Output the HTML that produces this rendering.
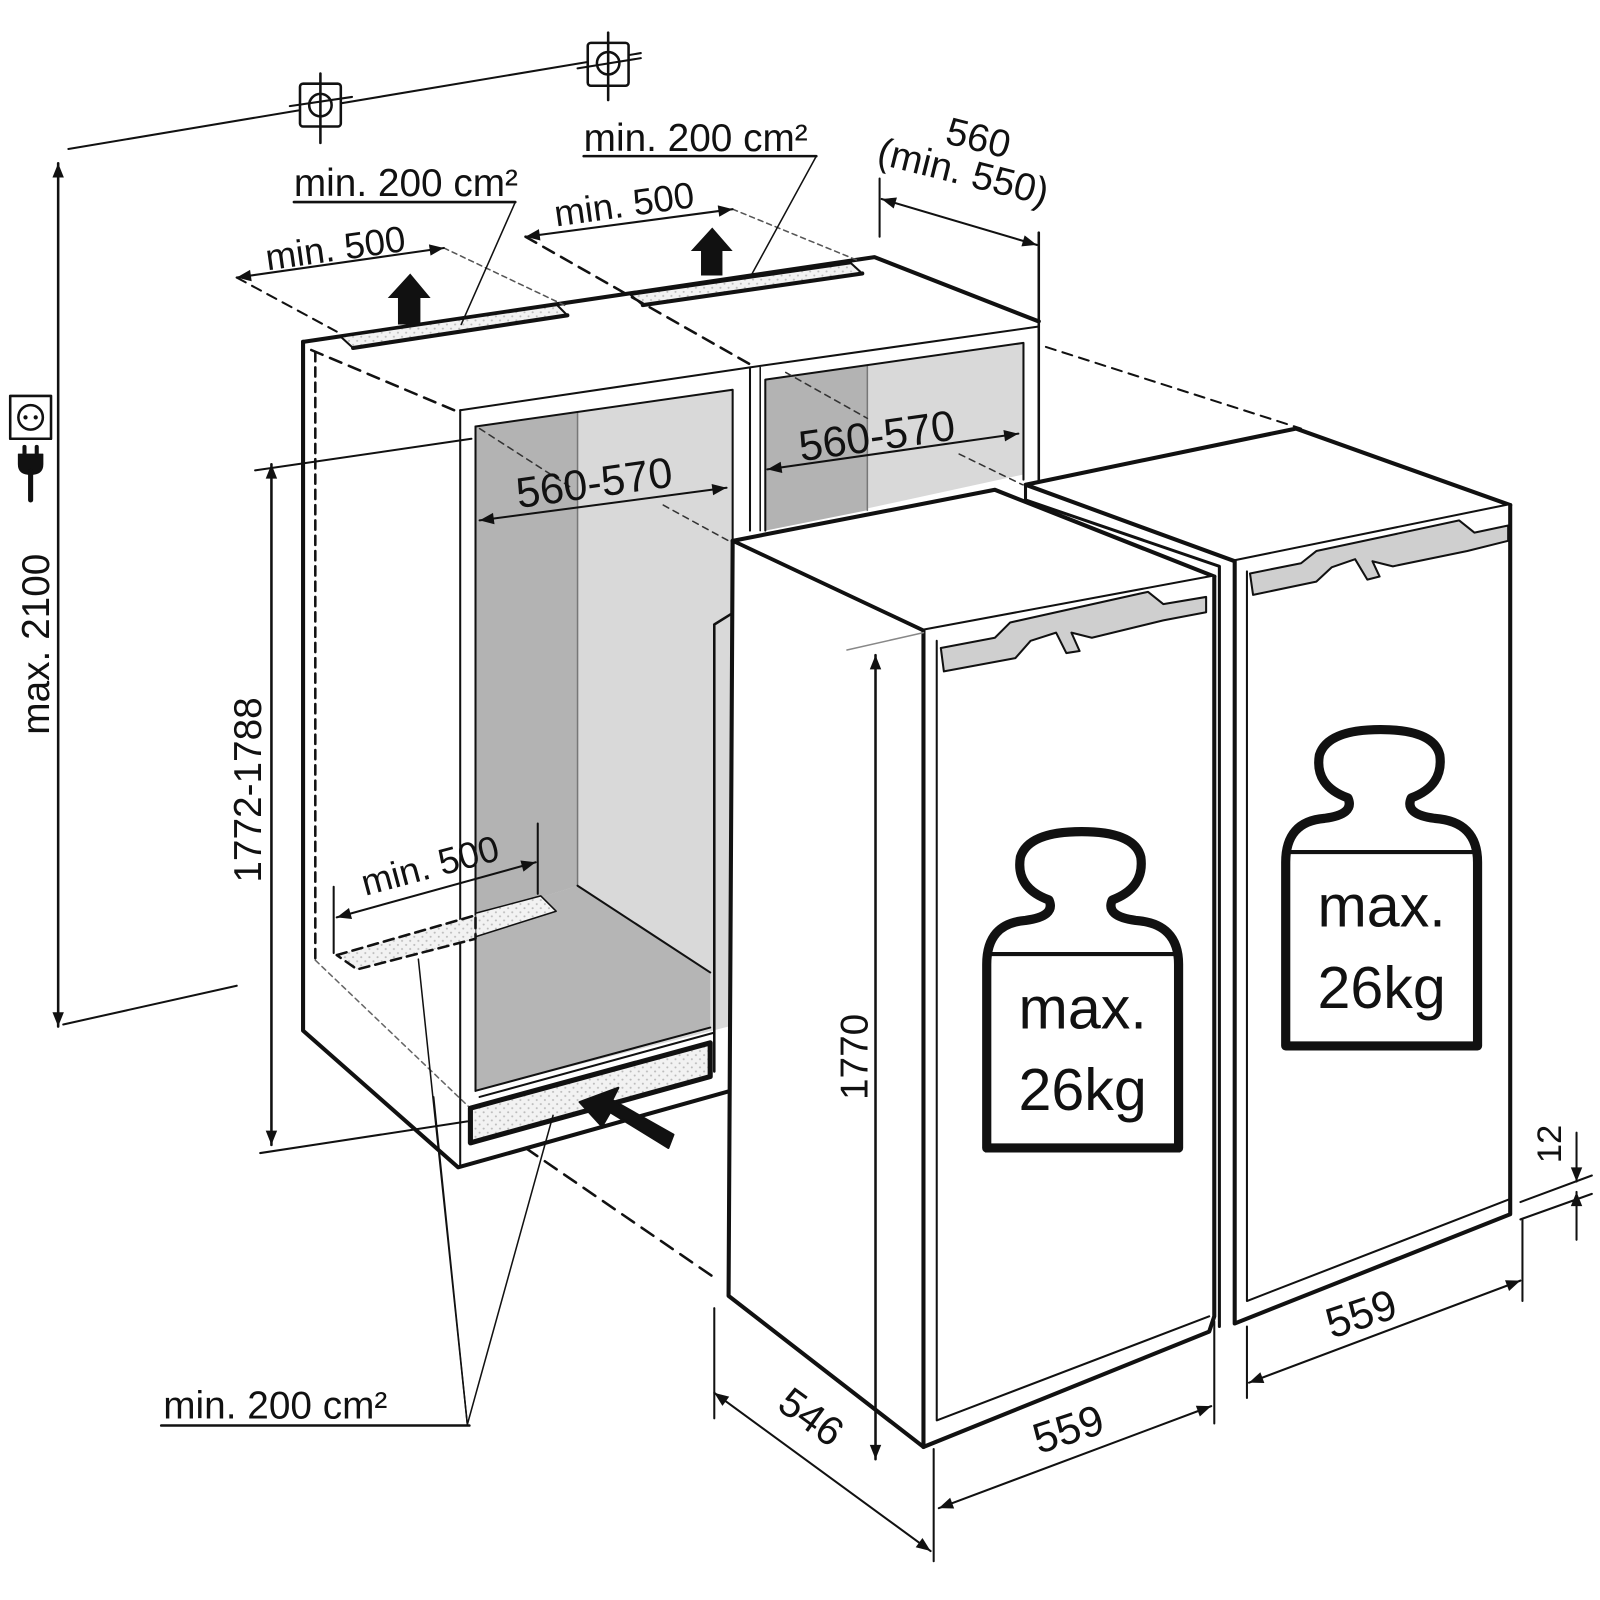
<!DOCTYPE html>
<html><head><meta charset="utf-8"><style>
html,body{margin:0;padding:0;background:#fff}
svg{display:block}
text{font-family:"Liberation Sans Narrow","Liberation Sans",sans-serif;fill:#111}
</style></head><body>
<svg width="1600" height="1600" viewBox="0 0 1568 1568" xmlns="http://www.w3.org/2000/svg">
<defs>
<marker id="b" viewBox="0 0 10 10" refX="10" refY="5" markerWidth="26" markerHeight="14" orient="auto-start-reverse" markerUnits="userSpaceOnUse"><path d="M0,1 L10,5 L0,9 Z" fill="#111"/></marker>
<pattern id="dots" width="8" height="8" patternUnits="userSpaceOnUse"><rect width="8" height="8" fill="#f2f2f2"/><circle cx="2" cy="2" r="1" fill="#bbb"/><circle cx="6" cy="6" r="1" fill="#bbb"/></pattern>
</defs>
<g fill="none" stroke="#111" stroke-linecap="round" stroke-linejoin="round">

<line x1="67" y1="146" x2="628" y2="52" stroke-width="2"/>
<rect x="294" y="82" width="40" height="42" rx="3" fill="#fff" stroke-width="2.5"/>
<circle cx="314" cy="103" r="11" stroke-width="2.5"/>
<line x1="314" y1="72" x2="314" y2="140" stroke-width="2.5"/><line x1="284" y1="104" x2="345" y2="95" stroke-width="2"/>
<rect x="576" y="42" width="40" height="42" rx="3" fill="#fff" stroke-width="2.5"/>
<circle cx="596" cy="62" r="11" stroke-width="2.5"/>
<line x1="596" y1="32" x2="596" y2="98" stroke-width="2.5"/><line x1="566" y1="67" x2="628" y2="57" stroke-width="2"/>

<line x1="57" y1="160" x2="57" y2="1006" stroke-width="2.5" marker-start="url(#b)" marker-end="url(#b)"/>
<line x1="62" y1="1004" x2="232" y2="966" stroke-width="2"/>
<rect x="10" y="388" width="40" height="42" stroke-width="2.5"/>
<circle cx="30" cy="409" r="12" stroke-width="2.5"/>
<circle cx="25" cy="409" r="1.6" fill="#111"/><circle cx="35" cy="409" r="1.6" fill="#111"/>
<path d="M18,445 h24 v10 q0,10 -12,10 q-12,0 -12,-10 z" fill="#111" stroke-width="1"/>
<line x1="24" y1="438" x2="24" y2="446" stroke-width="4"/><line x1="36" y1="438" x2="36" y2="446" stroke-width="4"/>
<line x1="30" y1="462" x2="30" y2="490" stroke-width="5"/>

<line x1="266" y1="455" x2="266" y2="1122" stroke-width="2.5" marker-start="url(#b)" marker-end="url(#b)"/>
<line x1="250" y1="461" x2="462" y2="430" stroke-width="2"/>
<line x1="255" y1="1130" x2="458" y2="1099" stroke-width="2"/>

<path d="M297,335 L297,1010 L449,1144 L716,1069" stroke-width="4"/>
<line x1="309" y1="345" x2="309" y2="941" stroke-width="2.5" stroke-dasharray="9,6"/>
<line x1="309" y1="941" x2="464" y2="1089" stroke-width="1.5" stroke-dasharray="5,4" stroke="#666"/>
<line x1="451" y1="402" x2="451" y2="1144" stroke-width="2"/>
<path d="M297,335 L857,252 L1018,315" stroke-width="4"/>
<polygon points="334,330 546,299 556,309 346,341" fill="url(#dots)" stroke-width="2"/>
<line x1="346" y1="341" x2="556" y2="309" stroke-width="4"/>
<polygon points="618,289 834,258 845,268 630,299" fill="url(#dots)" stroke-width="2"/>
<line x1="630" y1="299" x2="845" y2="268" stroke-width="4"/>
<line x1="1018" y1="228" x2="1018" y2="475" stroke-width="2.5"/>
<path d="M451,402 L735,360 L1018,320" stroke-width="2"/>
<line x1="735" y1="360" x2="735" y2="520" stroke-width="2"/>
<line x1="745" y1="360" x2="745" y2="520" stroke-width="1.5"/>
<polygon points="466,418 718,382 718,1005 466,1069" fill="#d9d9d9" stroke="none"/>
<polygon points="466,418 566,404 566,868 466,900" fill="#b3b3b3" stroke="none"/>
<polygon points="466,900 566,868 696,953 696,1007 466,1069" fill="#b5b5b5" stroke="none"/>
<line x1="566" y1="404" x2="566" y2="868" stroke="#777" stroke-width="1.5"/>
<path d="M566,868 L696,953" stroke-width="2"/>
<path d="M466,1069 L696,1007" stroke-width="2"/>
<path d="M466,418 L718,382 L718,600" stroke-width="2"/>
<line x1="466" y1="418" x2="466" y2="1069" stroke-width="2"/>
<polygon points="461,1086 696,1022 696,1055 461,1120" fill="url(#dots)" stroke-width="5"/>
<path d="M470,1075 L700,1012" stroke-width="2"/>
<polygon points="466,895 530,878 545,893 466,918" fill="url(#dots)" stroke-width="1.5"/>
<polygon points="330,936 466,897 466,920 350,950" fill="url(#dots)" stroke-width="2.5" stroke-dasharray="10,6"/>
<polygon points="750,372 1003,336 1003,465 750,520" fill="#d9d9d9" stroke="none"/>
<polygon points="750,372 850,358 850,500 750,520" fill="#b3b3b3" stroke="none"/>
<line x1="850" y1="358" x2="850" y2="500" stroke="#777" stroke-width="1.5"/>
<path d="M750,520 L750,372 L1003,336 L1003,470" stroke-width="2"/>

<line x1="305" y1="343" x2="445" y2="402" stroke-width="2.5" stroke-dasharray="12,8"/>
<line x1="515" y1="232" x2="735" y2="357" stroke-width="2.5" stroke-dasharray="12,8"/>
<line x1="232" y1="272" x2="330" y2="325" stroke-width="2" stroke-dasharray="10,7"/>
<line x1="435" y1="243" x2="555" y2="300" stroke-width="1.5" stroke-dasharray="5,4" stroke="#555"/>
<line x1="718" y1="205" x2="840" y2="255" stroke-width="1.5" stroke-dasharray="5,4" stroke="#555"/>
<line x1="1025" y1="340" x2="1275" y2="420" stroke-width="2" stroke-dasharray="10,7"/>
<line x1="470" y1="420" x2="560" y2="478" stroke-width="1.5" stroke-dasharray="6,5" stroke="#333"/>
<line x1="650" y1="495" x2="714" y2="530" stroke-width="1.5" stroke-dasharray="6,5" stroke="#333"/>
<line x1="770" y1="365" x2="850" y2="410" stroke-width="1.5" stroke-dasharray="6,5" stroke="#333"/>
<line x1="940" y1="445" x2="1002" y2="475" stroke-width="1.5" stroke-dasharray="6,5" stroke="#333"/>
<line x1="515" y1="1125" x2="700" y2="1252" stroke-width="2.5" stroke-dasharray="14,9"/>

<line x1="288" y1="198" x2="505" y2="198" stroke-width="2.5"/>
<line x1="505" y1="198" x2="452" y2="318" stroke-width="1.5"/>
<line x1="572" y1="153" x2="800" y2="153" stroke-width="2.5"/>
<line x1="800" y1="153" x2="735" y2="272" stroke-width="1.5"/>
<line x1="232" y1="272" x2="435" y2="243" stroke-width="2" marker-start="url(#b)" marker-end="url(#b)"/>
<line x1="515" y1="232" x2="718" y2="205" stroke-width="2" marker-start="url(#b)" marker-end="url(#b)"/>
<path d="M390,318 V292 H380 L402,268 L422,292 H412 V318 Z" fill="#111" stroke="none"/>
<path d="M687,270 V246 H677 L698,223 L718,246 H708 V270 Z" fill="#111" stroke="none"/>
<line x1="862" y1="175" x2="862" y2="232" stroke-width="2"/>
<line x1="864" y1="195" x2="1016" y2="240" stroke-width="2" marker-start="url(#b)" marker-end="url(#b)"/>
<line x1="470" y1="510" x2="712" y2="478" stroke-width="2" marker-start="url(#b)" marker-end="url(#b)"/>
<line x1="752" y1="460" x2="998" y2="425" stroke-width="2" marker-start="url(#b)" marker-end="url(#b)"/>
<line x1="327" y1="869" x2="327" y2="934" stroke-width="2"/>
<line x1="527" y1="807" x2="527" y2="876" stroke-width="2"/>
<line x1="330" y1="899" x2="525" y2="845" stroke-width="2" marker-start="url(#b)" marker-end="url(#b)"/>
<path d="M655,1125 L598,1090 L590,1104 L568,1080 L606,1066 L600,1078 L660,1112 Z" fill="#111" stroke="#111" stroke-width="2"/>
<line x1="158" y1="1397" x2="460" y2="1397" stroke-width="2.5"/>
<line x1="410" y1="940" x2="458" y2="1396" stroke-width="1.5"/>
<line x1="425" y1="1075" x2="458" y2="1396" stroke-width="1.5"/>
<line x1="542" y1="1093" x2="458" y2="1396" stroke-width="1.5"/>

<polygon points="1005,475 1270,420 1480,495 1210,550" fill="#fff" stroke-width="4"/>
<path d="M1005,475 L1005,490 L1195,555 L1195,1300" stroke-width="3" fill="#fff"/>
<path d="M1210,550 L1210,1297 L1480,1190 L1480,495" fill="#fff" stroke-width="4"/>
<path d="M1222,560 L1222,1275 L1480,1175" stroke-width="2"/>
<path d="M1225,562 L1275,552 L1290,540 L1430,510 L1445,522 L1478,515 L1478,530 L1438,540 L1365,555 L1345,550 L1352,565 L1340,568 L1328,548 L1305,556 L1290,570 L1228,583 Z" fill="#cfcfcf" stroke-width="2"/>
<polygon points="718,530 975,480 1190,565 905,618" fill="#fff" stroke-width="4"/>
<polygon points="718,532 905,620 905,1416 714,1268" fill="#fff" stroke="none"/>
<path d="M718,530 L714,1270 L905,1418" stroke-width="4"/>
<path d="M700,612 L716,602 M700,612 L700,1050" stroke-width="2.5"/>
<path d="M905,618 L905,1418 L1185,1305 L1190,1290 L1190,565" fill="#fff" stroke-width="4"/>
<path d="M918,628 L918,1392 L1185,1290" stroke-width="2"/>
<path d="M922,635 L975,625 L990,610 L1125,580 L1140,592 L1182,585 L1182,600 L1140,608 L1070,625 L1050,620 L1058,638 L1045,640 L1035,620 L1010,628 L995,645 L925,658 Z" fill="#cfcfcf" stroke-width="2"/>

<line x1="830" y1="637" x2="905" y2="620" stroke-width="1.5" stroke="#888"/>
<line x1="858" y1="642" x2="858" y2="1430" stroke-width="2.5" marker-start="url(#b)" marker-end="url(#b)"/>
<line x1="700" y1="1282" x2="700" y2="1390" stroke-width="2"/>
<line x1="915" y1="1420" x2="915" y2="1530" stroke-width="2"/>
<line x1="700" y1="1365" x2="912" y2="1520" stroke-width="2" marker-start="url(#b)" marker-end="url(#b)"/>
<line x1="1190" y1="1295" x2="1190" y2="1395" stroke-width="2"/>
<line x1="920" y1="1478" x2="1187" y2="1378" stroke-width="2" marker-start="url(#b)" marker-end="url(#b)"/>
<line x1="1222" y1="1300" x2="1222" y2="1370" stroke-width="2"/>
<line x1="1492" y1="1195" x2="1492" y2="1275" stroke-width="2"/>
<line x1="1224" y1="1355" x2="1490" y2="1255" stroke-width="2" marker-start="url(#b)" marker-end="url(#b)"/>
<line x1="1490" y1="1178" x2="1560" y2="1152" stroke-width="2"/>
<line x1="1490" y1="1195" x2="1560" y2="1170" stroke-width="2"/>
<line x1="1545" y1="1110" x2="1545" y2="1158" stroke-width="2" marker-end="url(#b)"/>
<line x1="1545" y1="1215" x2="1545" y2="1168" stroke-width="2" marker-end="url(#b)"/>

<path d="M967,1125 V945 Q967,905 1005,902 Q1035,898 1028,882 Q995,870 1000,840 Q1008,815 1060,815 Q1112,815 1118,840 Q1122,870 1090,882 Q1083,898 1113,902 Q1155,905 1155,945 V1125 Z" stroke-width="9"/>
<line x1="967" y1="935" x2="1155" y2="935" stroke-width="4"/>
<path d="M1260,1025 V845 Q1260,805 1298,802 Q1328,798 1321,782 Q1288,770 1293,740 Q1301,715 1353,715 Q1405,715 1411,740 Q1415,770 1383,782 Q1376,798 1406,802 Q1448,805 1448,845 V1025 Z" stroke-width="9"/>
<line x1="1260" y1="835" x2="1448" y2="835" stroke-width="4"/>
</g>

<g>
<text x="288" y="192" font-size="38">min. 200 cm²</text>
<text x="572" y="148" font-size="38">min. 200 cm²</text>
<text x="262" y="265" font-size="36" transform="rotate(-8 262 265)">min. 500</text>
<text x="545" y="222" font-size="36" transform="rotate(-8 545 222)">min. 500</text>
<text x="925" y="140" font-size="38" transform="rotate(14 925 140)">560</text>
<text x="858" y="160" font-size="38" transform="rotate(14 858 160)">(min. 550)</text>
<text x="508" y="498" font-size="42" transform="rotate(-8 508 498)">560-570</text>
<text x="785" y="452" font-size="42" transform="rotate(-8 785 452)">560-570</text>
<text x="358" y="878" font-size="36" transform="rotate(-15 358 878)">min. 500</text>
<text x="160" y="1390" font-size="38">min. 200 cm²</text>
<text x="48" y="720" font-size="38" transform="rotate(-90 48 720)">max. 2100</text>
<text x="256" y="865" font-size="38" transform="rotate(-90 256 865)">1772-1788</text>
<text x="850" y="1078" font-size="38" transform="rotate(-90 850 1078)">1770</text>
<text x="1530" y="1140" font-size="34" transform="rotate(-90 1530 1140)">12</text>
<text x="760" y="1380" font-size="40" transform="rotate(36 760 1380)">546</text>
<text x="1018" y="1425" font-size="42" transform="rotate(-18 1018 1425)">559</text>
<text x="1305" y="1312" font-size="42" transform="rotate(-18 1305 1312)">559</text>
<text x="1061" y="1008" font-size="58" text-anchor="middle">max.</text>
<text x="1061" y="1088" font-size="58" text-anchor="middle">26kg</text>
<text x="1354" y="908" font-size="58" text-anchor="middle">max.</text>
<text x="1354" y="988" font-size="58" text-anchor="middle">26kg</text>
</g>
</svg>
</body></html>
